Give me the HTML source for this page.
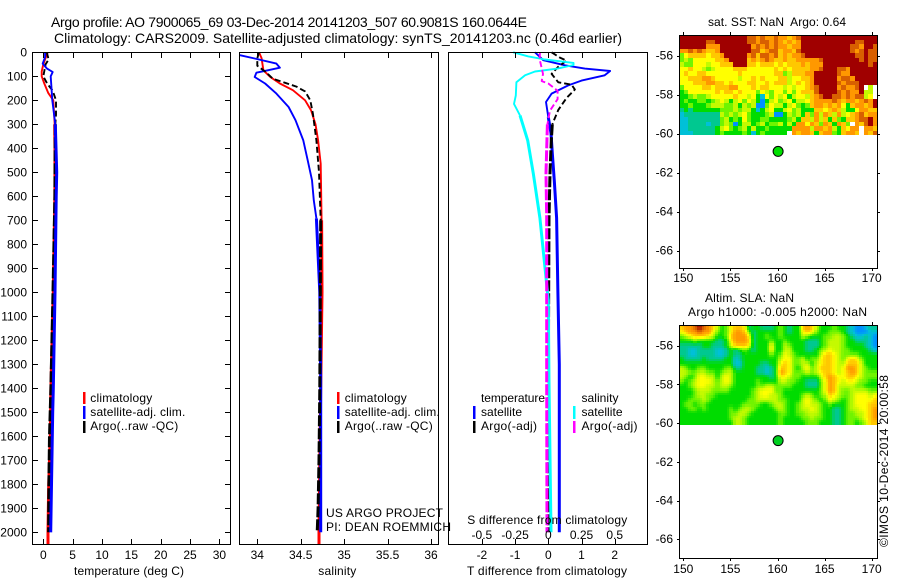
<!DOCTYPE html>
<html lang="en">
<head>
<meta charset="utf-8">
<title>Argo profile</title>
<style>
html,body{margin:0;padding:0;background:#fff;}
svg{display:block;}
text{font-family:"Liberation Sans",Arial,sans-serif;font-size:12px;fill:#000;white-space:pre;}
</style>
</head>
<body>
<svg id="figure" xmlns="http://www.w3.org/2000/svg" width="900" height="580" viewBox="0 0 900 580">
  <text x="51" y="27" style="font-size:14px" textLength="476">Argo profile: AO 7900065_69 03-Dec-2014 20141203_507 60.9081S 160.0644E</text>
  <text x="54" y="43" style="font-size:14px" textLength="568">Climatology: CARS2009. Satellite-adjusted climatology: synTS_20141203.nc (0.46d earlier)</text>
  <g id="heat"></g>
  <g id="marks"></g>
  <rect x="32.5" y="52.5" width="198" height="492" fill="none" stroke="#000"/>
  <rect x="239.5" y="52.5" width="199" height="492" fill="none" stroke="#000"/>
  <rect x="448.5" y="52.5" width="199" height="492" fill="none" stroke="#000"/>
  <rect x="679.5" y="35.5" width="198" height="233" fill="none" stroke="#000"/>
  <rect x="679.5" y="325.5" width="198" height="233" fill="none" stroke="#000"/>
  <g id="axes"></g>

  <text x="74" y="575" textLength="110">temperature (deg C)</text>
  <text x="318.3" y="575" textLength="38">salinity</text>
  <text x="467" y="575" textLength="160">T difference from climatology</text>
  <text x="467.3" y="524" textLength="160">S difference from climatology</text>

  <g>
    <rect x="83" y="392" width="2.5" height="12" fill="#ff0000"/>
    <rect x="83" y="406" width="2.5" height="13" fill="#0000ff"/>
    <rect x="83" y="421" width="2.5" height="12" fill="#000"/>
    <text x="90.3" y="402" textLength="62">climatology</text>
    <text x="90.3" y="416" textLength="95">satellite-adj. clim.</text>
    <text x="90.3" y="430" textLength="88">Argo(..raw -QC)</text>
  </g>
  <g>
    <rect x="337" y="392" width="2.5" height="12" fill="#ff0000"/>
    <rect x="337" y="406" width="2.5" height="13" fill="#0000ff"/>
    <rect x="337" y="421" width="2.5" height="12" fill="#000"/>
    <text x="344.7" y="402" textLength="62">climatology</text>
    <text x="344.7" y="416" textLength="95">satellite-adj. clim.</text>
    <text x="344.7" y="430" textLength="88">Argo(..raw -QC)</text>
  </g>
  <text x="326" y="517" textLength="117">US ARGO PROJECT</text>
  <text x="326" y="531" textLength="125">PI: DEAN ROEMMICH</text>
  <g>
    <text x="481" y="402" textLength="64">temperature</text>
    <text x="581.5" y="402" textLength="37">salinity</text>
    <rect x="473" y="406" width="2.5" height="13" fill="#0000ff"/>
    <rect x="473" y="421" width="2.5" height="12" fill="#000"/>
    <rect x="573" y="406" width="2.5" height="13" fill="#00ffff"/>
    <rect x="573" y="421" width="2.5" height="12" fill="#ff00ff"/>
    <text x="481" y="416" textLength="41">satellite</text>
    <text x="481" y="430" textLength="56">Argo(-adj)</text>
    <text x="581.5" y="416" textLength="41">satellite</text>
    <text x="581.5" y="430" textLength="56">Argo(-adj)</text>
  </g>
  <text x="708" y="26" textLength="138">sat. SST: NaN  Argo: 0.64</text>
  <text x="705" y="302" textLength="89">Altim. SLA: NaN</text>
  <text x="688" y="316" textLength="179">Argo h1000: -0.005 h2000: NaN</text>
  <text transform="translate(888,547) rotate(-90)" textLength="172">©IMOS 10-Dec-2014 20:00:58</text>
</svg>
<script>
/* tick values */
const depthTicks = [0,100,200,300,400,500,600,700,800,900,1000,1100,1200,1300,1400,1500,1600,1700,1800,1900,2000];
const tempTicks = [0,5,10,15,20,25,30];
const salinityTicks = [34,34.5,35,35.5,36];
const tDiffTicks = [-2,-1,0,1,2];
const sDiffTicks = [-0.5,-0.25,0,0.25,0.5];
const lonTicks = [150,155,160,165,170];
const latTicks = [-56,-58,-60,-62,-64,-66];

/* temperature panel */
const tempClimDepth = [0,50,80,100,130,170,200,300,400,600,1000,1400,1600,1800,2000,2050];
const tempClimValues = [0.75,0,-0.28,-0.28,0.17,0.85,1.7,1.95,2.0,1.97,1.7,1.3,1.2,0.92,0.8,0.8];
const tempSatDepth = [0,20,47,67,82,100,200,300,500,600,1000,1400,1500,1800,2000];
const tempSatValues = [0.3,0.3,-0.1,0.6,1.6,1.26,1.53,2.05,2.28,2.2,2.0,1.7,1.6,1.4,1.26];
const tempArgoDepth = [0,30,50,100,130,160,200,260,300,600,1000,1400,1600,1800,2000];
const tempArgoValues = [0.6,0.9,0.4,0,0.65,1.6,2.16,2.16,2.05,1.97,1.65,1.3,1.05,0.95,0.9];

/* salinity panel */
const salClimDepth = [0,25,75,103,130,158,200,242,300,367,464,700,1000,1400,2000,2050];
const salClimValues = [34.02,34.05,34.07,34.15,34.26,34.41,34.55,34.62,34.67,34.70,34.73,34.74,34.745,34.73,34.71,34.71];
const salSatDepth = [12,26,47,64,75,85,103,130,172,228,283,367,450,533,617,692,1000,1370,2000];
const salSatValues = [33.8,33.97,34.22,34.26,34.12,33.99,33.97,34.09,34.22,34.36,34.44,34.53,34.58,34.63,34.65,34.68,34.72,34.73,34.73];
const salArgoDepth = [0,25,56,80,110,127,143,163,200,256,367,500,700,1400,1700,1900,2000];
const salArgoValues = [34.02,34.0,34.0,34.09,34.18,34.32,34.45,34.55,34.61,34.64,34.68,34.71,34.73,34.72,34.71,34.70,34.69];

/* difference panel */
const diffTSatDepth = [0,33,54,68,78,96,118,138,172,207,270,338,420,535,690,1000,1300,2000];
const diffTSatValues = [-0.4,-0.15,0.5,1.1,1.86,1.7,1.0,0.6,0.1,-0.07,0,0.08,0.12,0.18,0.25,0.29,0.33,0.33];
const diffTArgoDepth = [0,22,35,60,90,125,135,155,190,240,300,367,505,690,1370,2000];
const diffTArgoValues = [0.1,0.35,0.55,0.3,0.1,0.3,0.7,0.8,0.55,0.3,0.12,0.09,0.05,0.02,0,0];
const diffSSatDepth = [0,17,30,44,53,68,80,96,125,180,215,263,367,505,690,1033,1370,2000];
const diffSSatValues = [-0.264,-0.15,-0.025,0.19,0.19,0.07,-0.1,-0.175,-0.24,-0.245,-0.258,-0.213,-0.155,-0.113,-0.063,0,0.005,0.02];
const diffSArgoDepth = [0,30,90,120,130,160,195,243,300,505,690,1370,2000];
const diffSArgoValues = [-0.063,-0.065,-0.04,-0.05,0,0.07,0.07,0.013,-0.007,-0.017,-0.012,-0.012,-0.01];

/* satellite SST map: colour level per cell, -1 = no data, north row first */
const sstLevels = [
[10,10,10,10,10,10,10,10,10,10,10, 10,10,10,10,9,9,8,9,8,8,9, 8,8,7,8,9,10,10,10,10,10,10, 10,10,10,10,10,10,10,10,10,10,10],
[10,10,10,10,10,10,9,9,10,10,10, 10,10,10,10,9,9,8,9,9,8,9, 8,7,8,7,8,10,10,10,10,10,10, 10,10,10,10,10,10,9,9,10,10,10],
[10,10,10,10,10,10,8,8,8,10,10, 10,10,10,10,10,8,9,8,9,8,9, 8,8,7,8,8,10,10,10,10,10,10, 10,10,10,10,10,9,9,8,10,10,9],
[8,8,9,8,9,8,7,7,8,10,10, 10,10,10,10,10,9,9,7,8,9,9, 7,8,8,7,9,10,10,10,10,10,10, 10,10,10,10,10,9,8,9,10,9,9],
[4,6,7,7,7,7,6,7,7,8,10, 10,10,10,10,8,9,7,9,9,8,9, 7,8,7,8,8,9,10,10,10,10,10, 10,10,10,10,10,10,9,9,10,9,9],
[4,5,4,6,6,6,6,6,7,7,8, 10,10,10,10,7,8,7,8,9,8,7, 7,8,7,7,8,8,8,8,8,9,10, 10,10,10,10,10,10,10,9,10,9,9],
[5,4,4,6,6,6,5,6,6,7,7, 7,10,10,10,7,7,6,7,7,7,6, 7,6,7,7,7,8,7,8,8,8,10, 10,10,10,10,10,10,10,10,10,9,10],
[6,6,7,6,6,5,4,5,6,6,6, 6,7,7,7,6,6,6,6,6,6,7, 6,7,6,7,7,7,7,8,8,9,10, 10,10,9,9,8,10,10,10,10,10,10],
[6,7,6,6,7,7,6,6,6,6,6, 6,6,7,6,6,6,6,6,6,6,7, 7,4,5,7,7,7,8,8,10,10,10, 10,10,9,8,8,10,10,10,10,10,10],
[6,6,7,7,7,8,8,7,6,6,6, 6,6,5,6,6,7,6,7,6,6,6, 7,7,5,6,6,7,7,8,10,10,10, 10,10,8,9,9,8,10,10,10,10,10],
[6,6,6,7,7,7,8,8,7,7,6, 7,6,6,6,7,7,6,6,7,6,7, 7,7,5,6,7,6,7,8,10,10,10, 10,10,9,8,9,9,9,10,10,10,10],
[4,6,6,6,6,7,7,6,7,7,7, 8,8,6,6,6,7,6,7,7,6,6, 6,5,6,5,6,6,7,8,9,10,10, 10,10,8,9,8,8,9,10,-1,5,-1],
[3,4,6,6,6,6,6,6,7,6,7, 7,6,7,6,6,6,4,6,5,4,6, 6,4,6,4,6,7,7,7,9,10,10, 10,10,9,8,9,8,8,10,5,5,-1],
[3,3,4,5,4,4,5,6,6,6,6, 6,7,6,6,5,6,3,1,6,4,6, 5,6,3,5,6,6,5,7,8,9,10, 10,9,9,8,9,8,9,9,5,6,-1],
[3,4,3,3,4,4,3,4,5,6,5, 3,5,6,4,6,5,3,0,3,5,6, 4,5,6,3,5,5,6,7,8,8,8, 8,9,8,7,8,8,7,8,9,8,10],
[3,3,4,3,3,3,4,5,5,5,4, 4,5,3,5,4,5,0,0,4,6,5, 5,3,5,6,4,3,4,7,8,8,7, 8,7,8,6,3,7,8,8,7,8,10],
[2,3,2,3,3,3,3,3,3,4,4, 4,5,4,5,5,3,1,3,5,6,3, 3,5,6,4,5,3,3,3,7,7,6, 7,8,7,5,3,3,6,8,8,7,7],
[1,2,2,2,2,2,2,2,2,5,4, 5,4,5,6,4,3,3,3,4,5,0, 0,3,5,4,5,3,7,4,8,5,8, 7,5,8,5,6,7,8,9,7,8,8],
[1,1,2,2,2,2,2,2,2,4,5, 3,4,3,6,4,3,3,4,4,3,3, 3,3,4,5,3,7,7,5,8,5,7, 3,7,4,3,7,7,8,9,9,10,8],
[1,1,2,2,2,2,1,2,2,4,5, 4,0,3,5,5,3,4,5,3,4,4, 5,3,5,3,8,8,6,8,7,4,8, 7,3,8,7,4,-1,8,7,9,10,8],
[1,1,2,2,2,2,2,2,3,5,6, 4,3,4,5,3,5,3,3,4,3,3, 3,3,3,8,8,8,8,5,8,8,7, 8,5,3,7,6,8,8,-1,8,8,7],
[1,1,1,2,2,2,2,2,3,4,3, 3,3,3,4,3,1,3,4,3,3,3, 3,3,-1,8,7,8,8,7,3,7,8, 8,4,3,7,8,8,7,-1,8,7,9]
];

/* altimeter SLA map: colour level per cell, north row first */
const slaLevels = [
[7,8,8,9,10,9,8,7,5,3,4, 6,7,7,6,2,3,3,2,2,2,3, 4,3,2,3,3,7,8,7,5,3,3, 3,4,3,3,2,1,0,0,1,2,2],
[6,7,8,8,9,8,8,6,4,3,4, 6,8,8,7,4,2,3,3,3,3,3, 4,3,2,3,3,6,7,6,4,3,3, 4,4,4,3,2,1,0,0,0,1,1],
[4,5,6,7,7,7,6,5,3,3,4, 7,8,8,8,6,2,3,3,4,3,3, 4,3,3,3,3,5,4,3,3,3,4, 4,5,5,4,3,2,1,1,2,1,0],
[3,3,3,4,3,3,3,3,2,2,3, 6,8,8,8,7,2,3,3,3,4,3, 3,4,3,3,3,3,2,2,2,3,4, 5,5,5,4,3,3,2,2,2,1,0],
[2,2,2,2,2,3,3,2,2,2,3, 5,7,7,7,6,2,3,3,3,6,3, 3,5,4,3,3,3,2,2,2,3,4, 5,5,5,4,3,3,3,3,2,1,0],
[2,2,1,1,2,2,2,2,1,1,2, 3,2,3,4,3,2,3,3,3,6,3, 3,5,5,3,3,3,2,2,3,4,5, 6,5,5,4,4,3,3,3,3,2,1],
[2,2,1,1,2,2,2,2,1,1,2, 3,2,2,3,3,3,3,3,3,4,3, 4,6,5,4,3,3,3,3,3,5,7, 7,6,5,4,4,4,4,3,3,3,3],
[3,2,2,2,2,3,2,2,2,2,3, 3,1,2,3,3,3,3,3,3,3,3, 5,6,6,4,4,5,3,4,4,6,7, 7,6,5,4,6,7,6,4,3,3,3],
[3,3,3,3,3,3,3,3,3,3,3, 3,1,1,3,3,3,3,2,2,3,3, 6,7,6,4,4,5,5,3,5,6,7, 7,6,5,5,7,7,7,5,3,3,3],
[5,4,3,3,4,4,3,3,3,3,4, 4,2,2,3,3,3,2,2,1,2,3, 7,7,6,4,3,5,6,4,5,7,7, 7,6,5,6,8,8,7,5,4,3,3],
[5,5,4,4,5,5,4,4,3,4,5, 5,3,3,3,3,3,2,2,1,2,3, 8,7,6,4,4,4,5,4,5,6,7, 7,6,5,6,7,8,7,5,4,4,4],
[5,4,3,4,6,6,5,5,3,5,6, 5,3,3,3,3,3,3,3,3,2,3, 6,6,5,4,4,3,3,3,3,5,7, 8,7,6,6,7,7,6,5,4,4,4],
[4,3,4,5,6,6,6,5,4,5,6, 5,3,3,3,3,3,4,3,3,3,3, 5,5,4,4,3,3,2,2,2,4,6, 8,7,6,5,6,6,5,4,4,3,3],
[3,3,4,5,6,6,5,5,4,5,5, 4,3,3,3,3,3,4,4,5,5,4, 4,4,4,3,3,3,2,2,2,4,6, 8,7,5,5,5,5,4,4,3,3,3],
[3,3,3,4,5,5,5,4,4,4,4, 3,3,3,3,3,4,5,6,6,6,4, 4,3,3,3,3,3,3,3,3,4,6, 8,7,5,4,4,5,5,5,5,4,4],
[3,3,3,4,5,5,4,4,3,3,3, 3,3,3,3,3,4,5,6,6,5,5, 4,3,3,3,3,4,5,4,3,4,5, 7,6,5,4,4,5,6,6,6,5,6],
[3,3,4,4,4,5,4,3,3,3,3, 3,3,3,3,4,4,5,5,5,5,5, 4,4,3,3,3,5,6,5,4,3,4, 6,5,4,3,4,5,6,6,6,6,7],
[3,4,4,3,4,4,3,3,3,3,3, 3,3,3,4,4,4,4,3,3,4,5, 5,4,3,3,4,5,6,5,5,4,3, 4,3,3,3,4,5,6,6,6,7,7],
[3,3,4,4,3,4,3,3,3,3,3, 4,3,4,5,5,4,3,3,3,3,4, 5,4,3,3,4,5,5,6,5,4,3, 3,2,2,3,4,5,5,6,6,7,8],
[3,3,3,3,3,3,3,3,3,3,3, 4,4,5,5,4,3,3,3,3,3,3, 4,4,3,3,4,4,5,5,5,4,3, 3,2,2,3,4,4,5,5,6,7,8],
[3,3,3,3,3,3,3,3,3,3,3, 4,5,5,4,3,3,3,3,3,3,3, 4,3,3,3,3,4,4,5,4,4,3, 3,2,2,3,4,4,4,5,6,7,8],
[3,3,3,3,3,3,3,3,3,3,3, 3,5,5,4,3,3,3,3,3,3,3, 4,3,3,3,3,3,4,4,4,3,3, 3,2,2,3,4,4,3,4,5,7,7]
];
const levelColors = ['#0090ff','#00c0d8','#00c890','#00dc00','#70f400','#c4fa00','#ffff00','#ffc800','#ff9800','#d86000','#a00000'];
const profileLon = 160.0644;
const profileLat = -60.9081;

const NS = 'http://www.w3.org/2000/svg';
const marks = document.getElementById('marks');
const axes = document.getElementById('axes');
const heat = document.getElementById('heat');

/* axis functions */
function yDepth(d){return 52.3 + d * 0.24;}
function xTemp(t){return 43.3 + t * 5.87;}
function xSal(s){return 257.3 + (s - 34) * 86.85;}
function xTDiff(t){return 548.3 + t * 33.2;}
function xSDiff(s){return 548.3 + s * 132.8;}
function xLon(l){return 683.3 + (l - 150) * 9.42;}
function yLatA(l){return 55.7 + (-56 - l) * 19.5;}
function yLatB(l){return 345.7 + (-56 - l) * 19.35;}

function lineEl(x1,y1,x2,y2){
  const l = document.createElementNS(NS,'line');
  l.setAttribute('x1',x1);
  l.setAttribute('y1',y1);
  l.setAttribute('x2',x2);
  l.setAttribute('y2',y2);
  l.setAttribute('stroke','#000');
  axes.appendChild(l);
  return l;
}
function textEl(x,y,str,anchor){
  const t = document.createElementNS(NS,'text');
  t.setAttribute('x',x);
  t.setAttribute('y',y);
  t.setAttribute('text-anchor',anchor);
  t.textContent = str;
  axes.appendChild(t);
  return t;
}
/* thin in the upper ocean, heavier from thickFrom downward, as the dense samples overplot */
function profile(depths,values,xFn,color,thickFrom,isDashed,name){
  const upper = [];
  const lower = [];
  depths.forEach(function(d,i){
    const pt = xFn(values[i]).toFixed(1)+','+yDepth(d).toFixed(1);
    if(d <= thickFrom){upper.push(pt);}
    if(d >= thickFrom || lower.length === 0 && i + 1 < depths.length && depths[i + 1] > thickFrom){lower.push(pt);}
  });
  const p = document.createElementNS(NS,'polyline');
  p.setAttribute('points',upper.join(' '));
  p.setAttribute('fill','none');
  p.setAttribute('stroke',color);
  p.setAttribute('stroke-width','1.9');
  p.setAttribute('stroke-linejoin','round');
  if(isDashed){p.setAttribute('stroke-dasharray','6 3');}
  
  
  marks.appendChild(p);
  const q = document.createElementNS(NS,'polyline');
  q.setAttribute('points',lower.join(' '));
  q.setAttribute('fill','none');
  q.setAttribute('stroke',color);
  q.setAttribute('stroke-width','3');
  q.setAttribute('stroke-linejoin','round');
  if(isDashed){q.setAttribute('stroke-dasharray','11 2');}
  
  
  marks.appendChild(q);
}
function hexToRgb(h){
  return [parseInt(h.slice(1,3),16),parseInt(h.slice(3,5),16),parseInt(h.slice(5,7),16)];
}
function levelColor(v){
  const lo = Math.max(0,Math.min(levelColors.length - 1,Math.floor(v)));
  const hi = Math.min(levelColors.length - 1,lo + 1);
  const f = v - lo;
  const a = hexToRgb(levelColors[lo]);
  const b = hexToRgb(levelColors[hi]);
  return 'rgb(' + a.map(function(c,i){return Math.round(c + (b[i] - c) * f);}).join(',') + ')';
}
/* smooth > 1 draws each data cell as smooth x smooth sub-cells, blended from its neighbours */
function heatmap(levels,yFn,smooth,name){
  const west = 149.58, east = 170.6, north = -54.94, south = -60.08;
  const rows = levels.length * smooth;
  const cols = levels[0].length * smooth;
  const cw = (east - west) / cols;
  const ch = (north - south) / rows;
  function sample(r,c){
    const gr = Math.max(0,Math.min(levels.length - 1,(r + 0.5) / smooth - 0.5));
    const gc = Math.max(0,Math.min(levels[0].length - 1,(c + 0.5) / smooth - 0.5));
    const r0 = Math.floor(gr), c0 = Math.floor(gc);
    const r1 = Math.min(levels.length - 1,r0 + 1), c1 = Math.min(levels[0].length - 1,c0 + 1);
    const fr = gr - r0, fc = gc - c0;
    return (levels[r0][c0] * (1 - fc) + levels[r0][c1] * fc) * (1 - fr) + (levels[r1][c0] * (1 - fc) + levels[r1][c1] * fc) * fr;
  }
  for(let r = 0; r < rows; r++){
    for(let c = 0; c < cols; c++){
      const v = smooth > 1 ? sample(r,c) : levels[r][c];
      if(v < 0){continue;}
      const x0 = Math.round(xLon(west + c * cw));
      const x1 = Math.round(xLon(west + (c + 1) * cw));
      const y0 = Math.round(yFn(north - r * ch));
      const y1 = Math.round(yFn(north - (r + 1) * ch));
      const cell = document.createElementNS(NS,'rect');
      cell.setAttribute('x',x0);
      cell.setAttribute('y',y0);
      cell.setAttribute('width',x1 - x0);
      cell.setAttribute('height',y1 - y0);
      cell.setAttribute('fill',levelColor(v));
      cell.setAttribute('shape-rendering','crispEdges');
      
      
      heat.appendChild(cell);
    }
  }
}
function dot(yFn,color,name){
  const outer = document.createElementNS(NS,'circle');
  outer.setAttribute('cx',xLon(profileLon));
  outer.setAttribute('cy',yFn(profileLat));
  outer.setAttribute('r','5');
  outer.setAttribute('fill',color);
  outer.setAttribute('stroke','#000');
  outer.setAttribute('stroke-width','1');
  
  
  heat.appendChild(outer);
}

/* profiles */
profile(tempClimDepth,tempClimValues,xTemp,'#ff0000',300,false,'temperature-climatology-line');
profile(tempArgoDepth,tempArgoValues,xTemp,'#000000',300,true,'temperature-argo-line');
profile(tempSatDepth,tempSatValues,xTemp,'#0000ff',300,false,'temperature-satellite-line');
profile(salClimDepth,salClimValues,xSal,'#ff0000',700,false,'salinity-climatology-line');
profile(salSatDepth,salSatValues,xSal,'#0000ff',700,false,'salinity-satellite-line');
profile(salArgoDepth,salArgoValues,xSal,'#000000',700,true,'salinity-argo-line');
profile(diffTSatDepth,diffTSatValues,xTDiff,'#0000ff',300,false,'t-difference-satellite-line');
profile(diffTArgoDepth,diffTArgoValues,xTDiff,'#000000',300,true,'t-difference-argo-line');
profile(diffSSatDepth,diffSSatValues,xSDiff,'#00ffff',300,false,'s-difference-satellite-line');
profile(diffSArgoDepth,diffSArgoValues,xSDiff,'#ff00ff',300,true,'s-difference-argo-line');

/* depth axis */
depthTicks.forEach(function(d){
  const y = Math.round(yDepth(d)) + 0.5;
  const a = lineEl(33,y,38,y);
  
  
  const b = lineEl(225,y,230,y);
  
  
  const t = textEl(27,yDepth(d)+4,String(d),'end');
  
  
});
/* horizontal axes of profile panels */
function bottomAxis(ticks,xFn,labelY,name,drawTicks){
  ticks.forEach(function(v){
    const x = Math.round(xFn(v)) + 0.5;
    if(drawTicks){
      const a = lineEl(x,544,x,539);
      
      
      const b = lineEl(x,53,x,58);
      
      
    }
    const t = textEl(xFn(v),labelY,String(v),'middle');
    
    
  });
}
bottomAxis(tempTicks,xTemp,559,'temperature',true);
bottomAxis(salinityTicks,xSal,559,'salinity',true);
bottomAxis(tDiffTicks,xTDiff,559,'t-difference',true);
bottomAxis(sDiffTicks,xSDiff,539,'s-difference',false);

/* maps */
heatmap(sstLevels,yLatA,1,'sst-cell');
heatmap(slaLevels,yLatB,2,'sla-cell');
dot(yLatA,'#00e000','sst-map-profile-marker');
dot(yLatB,'#00d020','sla-map-profile-marker');
function mapAxes(yFn,top,bottom,labelY,name){
  lonTicks.forEach(function(l){
    const x = Math.round(xLon(l)) + 0.5;
    const a = lineEl(x,top - 3,x,top);
    
    
    const b = lineEl(x,bottom,x,bottom + 3);
    
    
    const t = textEl(xLon(l),labelY,String(l),'middle');
    
    
  });
  latTicks.forEach(function(l){
    const y = Math.round(yFn(l)) + 0.5;
    const a = lineEl(677,y,680,y);
    
    
    const b = lineEl(877,y,880,y);
    
    
    const t = textEl(673,yFn(l)+4,String(l),'end');
    
    
  });
}
mapAxes(yLatA,35,268,282,'sst-map');
mapAxes(yLatB,325,558,573,'sla-map');
</script>
</body>
</html>
